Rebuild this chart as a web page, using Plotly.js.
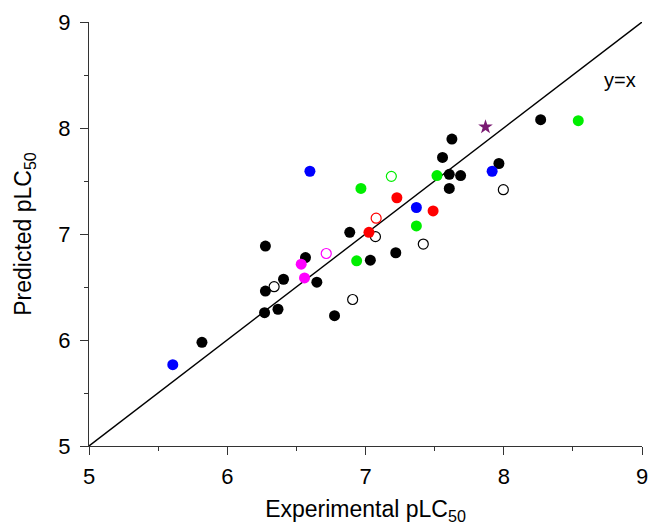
<!DOCTYPE html>
<html>
<head>
<meta charset="utf-8">
<script src="https://cdn.plot.ly/plotly-3.0.1.min.js"></script>
<style>html,body{margin:0;padding:0;background:#fff;}#chart{width:649px;height:525px;}</style>
</head>
<body>
<div id="chart"></div>
<script>
// Reference line y = x
const lineX = [5, 9];
const lineY = [5, 9];

// Black filled
const blackX = [8.267, 7.625, 7.557, 7.965, 7.606, 7.688, 7.606, 6.886, 6.276, 6.566, 7.035, 7.219, 6.407, 6.648, 6.276, 6.270, 6.367, 6.776, 5.817];
const blackY = [8.079, 7.896, 7.722, 7.665, 7.563, 7.551, 7.430, 7.016, 6.886, 6.778, 6.753, 6.823, 6.573, 6.545, 6.462, 6.258, 6.290, 6.229, 5.978];
// Black open
const blackOpenX = [7.997, 7.072, 7.418, 6.339, 6.907];
const blackOpenY = [7.418, 6.975, 6.905, 6.503, 6.382];
// Blue
const blueX = [6.598, 7.916, 7.368, 5.606];
const blueY = [7.592, 7.592, 7.250, 5.767];
// Green filled
const greenX = [8.539, 7.517, 6.967, 7.368, 6.936];
const greenY = [8.069, 7.551, 7.430, 7.076, 6.747];
// Green open
const greenOpenX = [7.187];
const greenOpenY = [7.544];
// Red filled
const redX = [7.227, 7.489, 7.025];
const redY = [7.342, 7.218, 7.016];
// Red open
const redOpenX = [7.077];
const redOpenY = [7.149];
// Magenta filled
const magentaX = [6.535, 6.559];
const magentaY = [6.715, 6.586];
// Magenta open
const magentaOpenX = [6.716];
const magentaOpenY = [6.816];
// Star
const starX = [7.868];
const starY = [8.010];

const tickVals = [5, 6, 7, 8, 9];
const tickText = ['5', '6', '7', '8', '9'];

function filled(x, y, color) {
  return {x: x, y: y, type: 'scatter', mode: 'markers',
    marker: {symbol: 'circle', size: 11, color: color, line: {width: 0}}, hoverinfo: 'x+y'};
}
function open(x, y, color) {
  return {x: x, y: y, type: 'scatter', mode: 'markers',
    marker: {symbol: 'circle-open', size: 10, color: color, line: {width: 1.2, color: color}}, hoverinfo: 'x+y'};
}

const traces = [
  {x: lineX, y: lineY, type: 'scatter', mode: 'lines', line: {color: '#000', width: 1.4}, hoverinfo: 'skip'},
  filled(blackX, blackY, '#000000'),
  open(blackOpenX, blackOpenY, '#000000'),
  filled(blueX, blueY, '#0000ff'),
  filled(greenX, greenY, '#00ee00'),
  open(greenOpenX, greenOpenY, '#00ee00'),
  filled(redX, redY, '#ff0000'),
  open(redOpenX, redOpenY, '#ff0000'),
  filled(magentaX, magentaY, '#ff00ff'),
  open(magentaOpenX, magentaOpenY, '#ff00ff'),
  {x: starX, y: starY, type: 'scatter', mode: 'markers',
   marker: {symbol: 'star', size: 11, color: '#7a1a72', line: {width: 0}}, hoverinfo: 'x+y'}
];

const axisCommon = {
  range: [5, 9],
  tickmode: 'array',
  tickvals: tickVals,
  ticktext: tickText,
  ticks: 'outside',
  ticklen: 8,
  tickwidth: 1,
  tickcolor: '#333',
  showline: true,
  linecolor: '#333',
  linewidth: 1,
  showgrid: false,
  zeroline: false,
  mirror: false,
  tickfont: {family: 'Liberation Sans, Arial, sans-serif', size: 22, color: '#000'},
  minor: {ticks: 'outside', ticklen: 4, tickwidth: 1, tickcolor: '#333', dtick: 0.5, tick0: 5, showgrid: false}
};

const layout = {
  width: 649,
  height: 525,
  margin: {l: 89, r: 7, t: 22, b: 79},
  paper_bgcolor: '#fff',
  plot_bgcolor: '#fff',
  showlegend: false,
  font: {family: 'Liberation Sans, Arial, sans-serif', color: '#000'},
  xaxis: Object.assign({}, axisCommon, {
    ticklabelstandoff: 3,
    title: {text: 'Experimental pLC<sub>50</sub>', font: {size: 23, color: '#000'}, standoff: 12}
  }),
  yaxis: Object.assign({}, axisCommon, {
    ticklabelstandoff: 5,
    title: {text: 'Predicted pLC<sub>50</sub>', font: {size: 23, color: '#000'}, standoff: 20}
  }),
  annotations: [{
    x: 8.84, y: 8.45, xref: 'x', yref: 'y', text: 'y=x', showarrow: false,
    font: {size: 20, color: '#000', family: 'Liberation Sans, Arial, sans-serif'}
  }]
};

Plotly.newPlot('chart', traces, layout, {displayModeBar: false, staticPlot: true});
</script>
</body>
</html>
